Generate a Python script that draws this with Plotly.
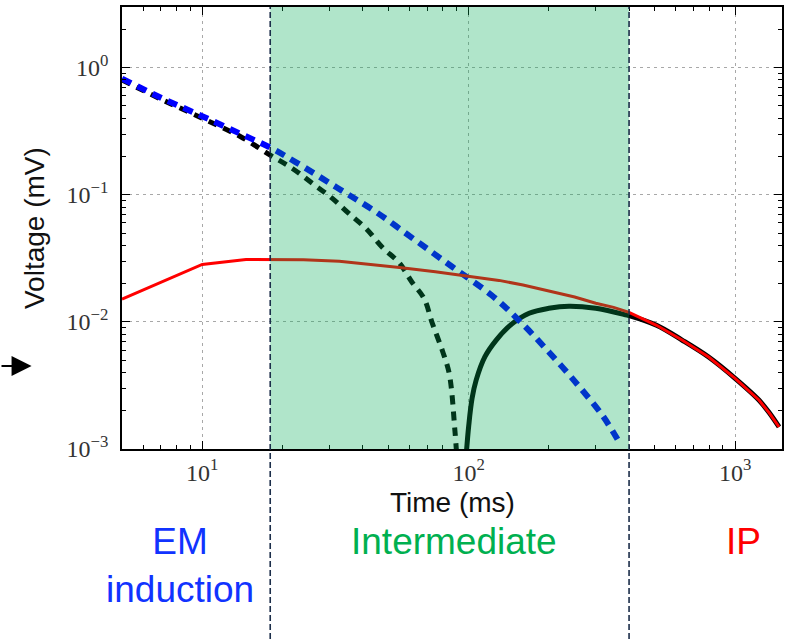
import plotly.graph_objects as go
import math

# ---- data ----
t_em = [5, 7, 10, 14, 18, 22.5, 32, 45, 63, 87, 122, 155, 200, 260, 320, 370]
v_em = [0.82, 0.58, 0.415, 0.30, 0.235, 0.18, 0.114, 0.073, 0.044, 0.027, 0.0162, 0.0102, 0.0058, 0.0031, 0.0018, 0.0011]

t_neg = [5, 7, 10, 14, 18, 21.8, 25.9, 30.7, 35.6, 41.3, 47.4, 55, 61.3, 68, 73, 80, 84.6, 88.8, 90.5]
v_neg = [0.80, 0.565, 0.40, 0.285, 0.205, 0.161, 0.123, 0.094, 0.071, 0.054, 0.0386, 0.029, 0.0205, 0.0153, 0.0098, 0.0058, 0.0039, 0.0014, 0.0008]

t_pos = [97.5, 100, 103, 106.7, 115, 126.7, 145, 168.6, 200, 238, 300, 393, 400, 507, 632, 798, 1000, 1231, 1350, 1462]
v_pos = [0.0008, 0.0015, 0.0025, 0.00348, 0.0053, 0.00716, 0.0096, 0.0117, 0.0128, 0.0133, 0.0128, 0.0113, 0.0112, 0.0094, 0.0072, 0.00527, 0.0036, 0.00242, 0.0019, 0.00149]

t_ip = [5, 10, 14.6, 18, 24, 32.7, 42, 55, 75, 100, 130, 160, 200, 250, 300, 350, 400, 507, 632, 798, 1000, 1231, 1350, 1462]
v_ip = [0.0151, 0.0283, 0.031, 0.031, 0.0308, 0.030, 0.0285, 0.0268, 0.0248, 0.0228, 0.0212, 0.0195, 0.0175, 0.0157, 0.0140, 0.0130, 0.0119, 0.0094, 0.0072, 0.00527, 0.0036, 0.00242, 0.0019, 0.00149]

t_bounds = [18, 400]
x_range = [5, 1500]
y_range = [0.001, 3]

x_ticks = [10, 100, 1000]
x_ticktext = ["10<sup>1</sup>", "10<sup>2</sup>", "10<sup>3</sup>"]
y_ticks = [1, 0.1, 0.01, 0.001]
y_ticktext = ["10<sup>0</sup>", "10<sup>\u22121</sup>", "10<sup>\u22122</sup>", "10<sup>\u22123</sup>"]

region_labels = ["EM<br>induction", "Intermediate", "IP"]
region_colors = ["#1133ff", "#00b050", "#ff0000"]

x_minor = [k * 10 ** d for d in range(0, 4) for k in range(2, 10)]
y_minor = [k * 10.0 ** d for d in range(-3, 1) for k in range(2, 10)]

fig = go.Figure()
fig.add_trace(go.Scatter(x=t_neg, y=v_neg, mode="lines", line_shape="spline",
                         line=dict(color="black", width=5, dash="9px,7px")))
fig.add_trace(go.Scatter(x=t_pos, y=v_pos, mode="lines", line_shape="spline",
                         line=dict(color="black", width=5)))
fig.add_trace(go.Scatter(x=t_em, y=v_em, mode="lines", line_shape="spline",
                         line=dict(color="#0000ff", width=6, dash="10px,7px")))
fig.add_trace(go.Scatter(x=t_ip, y=v_ip, mode="lines",
                         line=dict(color="#ff0000", width=3)))

# shaded intermediate window
fig.add_shape(type="rect", xref="x", yref="paper", x0=t_bounds[0], x1=t_bounds[1],
              y0=0, y1=1, fillcolor="rgba(0,170,85,0.31)", line=dict(width=0), layer="above")
for tb in t_bounds:
    fig.add_shape(type="line", xref="x", yref="paper", x0=tb, x1=tb, y0=-0.43, y1=1,
                  line=dict(color="#1c2e4a", width=1.6, dash="6px,3px"), layer="above")

# region labels
lx = [0.088, 0.503, 0.942]
for i, (lab, col) in enumerate(zip(region_labels, region_colors)):
    fig.add_annotation(x=lx[i], y=-0.159, xref="paper", yref="paper", text=lab,
                       showarrow=False, xanchor="center", yanchor="top",
                       font=dict(family="Liberation Sans, Arial", size=37, color=col))

# axis titles
fig.add_annotation(x=0.5, y=-0.122, xref="paper", yref="paper", text="Time (ms)",
                   showarrow=False, xanchor="center", yanchor="middle",
                   font=dict(family="Liberation Sans, Arial", size=28, color="#111"))
fig.add_annotation(x=-0.1333, y=0.5, xref="paper", yref="paper", text="Voltage (mV)",
                   showarrow=False, xanchor="center", yanchor="middle", textangle=-90,
                   font=dict(family="Liberation Sans, Arial", size=28, color="#111"))

# arrow on the left
fig.add_annotation(x=-0.137, y=0.188, xref="paper", yref="paper", text="",
                   showarrow=True, ax=-32, ay=0, axref="pixel", ayref="pixel",
                   arrowhead=2, arrowsize=2.0, arrowwidth=2, arrowcolor="black")

axis_common = dict(
    type="log", showline=True, linecolor="black", linewidth=1.5, mirror="allticks",
    ticks="inside", ticklen=8, tickwidth=1, tickcolor="black",
    showgrid=True, gridcolor="#a8a8a8", gridwidth=1, griddash="3px,4px",
    zeroline=False, automargin=False,
    tickfont=dict(family="Liberation Serif, Times New Roman", size=24, color="#333"),
)

fig.update_xaxes(range=[math.log10(x_range[0]), math.log10(x_range[1])],
                 tickvals=x_ticks, ticktext=x_ticktext, ticklabelstandoff=1,
                 minor=dict(tickvals=x_minor, ticks="inside", ticklen=4, tickcolor="black", showgrid=False),
                 **axis_common)
fig.update_yaxes(range=[math.log10(y_range[0]), math.log10(y_range[1])],
                 tickvals=y_ticks, ticktext=y_ticktext, ticklabelstandoff=7,
                 minor=dict(tickvals=y_minor, ticks="inside", ticklen=4, tickcolor="black", showgrid=False),
                 **axis_common)

fig.update_layout(width=793, height=639, margin=dict(l=122, r=11, t=7, b=190),
                  plot_bgcolor="white", paper_bgcolor="white", showlegend=False)

fig.write_html("out.html", config={"displayModeBar": False},
               post_script="document.body.style.margin='0px';")
